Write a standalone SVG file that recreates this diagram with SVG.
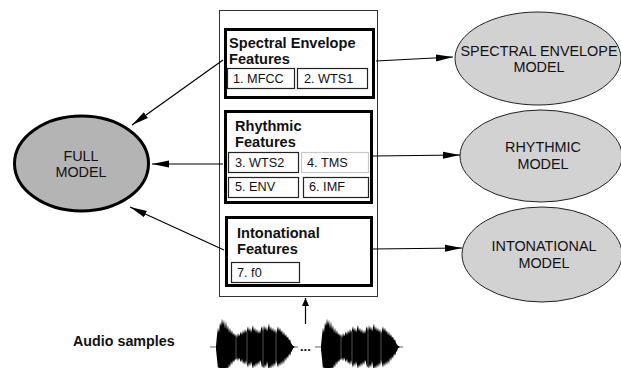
<svg xmlns="http://www.w3.org/2000/svg" width="621" height="368" viewBox="0 0 621 368">
<defs>
<style>
text{font-family:"Liberation Sans",Arial,sans-serif;fill:#111}
.title{font-size:14.6px;font-weight:bold}
.small{font-size:12.7px}
.model{font-size:14.4px;text-anchor:middle}
.fbox{fill:#fff;stroke:#000;stroke-width:3}
.sbox{fill:#fff;stroke:#222;stroke-width:1.2}
.conn{stroke:#000;stroke-width:1.2;fill:none}
</style>
<marker id="ah" markerUnits="userSpaceOnUse" markerWidth="18" markerHeight="8" refX="17" refY="4" orient="auto">
<path d="M0,0.5 L17,4 L0,7.5 z" fill="#000"/>
</marker>
<marker id="ahs" markerUnits="userSpaceOnUse" markerWidth="9" markerHeight="8" refX="8" refY="4" orient="auto">
<path d="M0,0.5 L8,4 L0,7.5 z" fill="#000"/>
</marker>
<g id="wave">
<line x1="210" y1="347" x2="298" y2="347" stroke="#667" stroke-width="1"/>
<g transform="translate(0,347) scale(1,1.3) translate(0,-347)">
<polygon fill="#000" points="216,346 217,338 218,332 219,336 220,328 221,331 222,325 223,330 224,326 225,333 226,327 227,334 228,330 229,336 230,332 231,337 232,334 233,338 234,336 235,339 236,337 237,340 238,336 239,339 240,337 241,335 242,338 243,334 244,337 245,333 246,336 247,334 248,331 249,335 250,332 251,336 252,333 253,330 254,335 255,332 256,336 257,333 258,337 259,334 260,337 261,333 262,331 263,335 264,330 265,334 266,331 267,335 268,332 269,329 270,334 271,331 272,335 273,332 274,336 275,333 276,337 277,334 278,331 279,335 280,332 281,336 282,334 283,338 284,335 285,339 286,337 287,340 288,339 289,342 290,341 291,344 292,345 293,346 295,347 293,348 292,350 291,351 290,354 289,352 288,356 287,354 286,358 285,355 284,360 283,357 282,361 281,358 280,362 279,359 278,363 277,360 276,357 275,362 274,359 273,363 272,360 271,364 270,361 269,365 268,362 267,358 266,363 265,360 264,364 263,361 262,363 261,359 260,357 259,361 258,358 257,362 256,359 255,363 254,360 253,364 252,361 251,358 250,362 249,359 248,363 247,360 246,357 245,361 244,358 243,360 242,356 241,359 240,357 239,355 238,358 237,355 236,357 235,356 234,359 233,357 232,361 231,358 230,363 229,360 228,365 227,362 226,367 225,363 224,368 223,365 222,370 221,366 220,369 219,362 218,364 217,356 216,349"/>
<g stroke="#777" stroke-width="0.6">
<line x1="236" y1="338" x2="236" y2="357"/>
<line x1="247" y1="335" x2="247" y2="360"/>
<line x1="263" y1="333" x2="263" y2="362"/>
<line x1="276" y1="336" x2="276" y2="359"/>
</g>
</g>
</g>
</defs>
<rect width="621" height="368" fill="#fff"/>

<g id="container">
<rect x="219.5" y="10.5" width="158" height="286" fill="#fff" stroke="#333" stroke-width="1"/>
</g>

<g id="spectral-features">
<rect class="fbox" x="225.5" y="29.5" width="148" height="68"/>
<text class="title" x="229" y="48">Spectral Envelope</text>
<text class="title" x="229" y="64">Features</text>
<rect class="sbox" x="227.5" y="68.5" width="67" height="20"/>
<text class="small" x="233" y="83">1. MFCC</text>
<rect class="sbox" x="297.5" y="68.5" width="70" height="20"/>
<text class="small" x="304" y="83">2. WTS1</text>
</g>

<g id="rhythmic-features">
<rect class="fbox" x="225.5" y="111.5" width="146" height="91"/>
<text class="title" x="235" y="131">Rhythmic</text>
<text class="title" x="235" y="147">Features</text>
<rect class="sbox" x="228.5" y="152.5" width="70" height="20"/>
<text class="small" x="235" y="167">3. WTS2</text>
<rect class="sbox" x="301.5" y="152.5" width="67" height="20" style="stroke:#c8c8c8"/>
<text class="small" x="307" y="167">4. TMS</text>
<rect class="sbox" x="228.5" y="177.5" width="70" height="20"/>
<text class="small" x="235" y="191">5. ENV</text>
<rect class="sbox" x="303.5" y="177.5" width="65" height="20"/>
<text class="small" x="309" y="191">6. IMF</text>
</g>

<g id="intonational-features">
<rect class="fbox" x="226.5" y="217.5" width="145" height="68"/>
<text class="title" x="237" y="238">Intonational</text>
<text class="title" x="237" y="254">Features</text>
<rect class="sbox" x="231.5" y="262.5" width="68" height="20"/>
<text class="small" x="237" y="277">7. f0</text>
</g>

<g id="full-model">
<ellipse cx="81.5" cy="163.5" rx="67" ry="47.5" fill="#b4b4b4" stroke="#000" stroke-width="3"/>
<text class="model" x="81" y="161">FULL</text>
<text class="model" x="81" y="177">MODEL</text>
</g>

<g id="spectral-model">
<ellipse cx="538" cy="58.5" rx="83" ry="46.5" fill="#d2d2d2" stroke="#222" stroke-width="1"/>
<text class="model" x="539" y="56">SPECTRAL ENVELOPE</text>
<text class="model" x="539" y="72">MODEL</text>
</g>

<g id="rhythmic-model">
<ellipse cx="541" cy="156" rx="81" ry="46" fill="#d2d2d2" stroke="#222" stroke-width="1"/>
<text class="model" x="543" y="152">RHYTHMIC</text>
<text class="model" x="543" y="169">MODEL</text>
</g>

<g id="intonational-model">
<ellipse cx="542" cy="254.5" rx="80" ry="47.5" fill="#d2d2d2" stroke="#222" stroke-width="1"/>
<text class="model" x="544" y="251">INTONATIONAL</text>
<text class="model" x="544" y="268">MODEL</text>
</g>

<g id="audio-samples">
<text class="title" x="73" y="346" style="font-size:14.3px">Audio samples</text>
<use href="#wave"/>
<use href="#wave" transform="translate(105,0)"/>
<text x="300" y="351" style="font-size:13px;font-weight:bold">...</text>
</g>

<g id="connectors">
<line class="conn" x1="223" y1="60" x2="132" y2="125" marker-end="url(#ah)"/>
<line class="conn" x1="223" y1="164" x2="152" y2="164" marker-end="url(#ah)"/>
<line class="conn" x1="224" y1="250" x2="130" y2="207" marker-end="url(#ah)"/>
<line class="conn" x1="376" y1="61" x2="453" y2="57" marker-end="url(#ah)"/>
<line class="conn" x1="373" y1="156" x2="460" y2="155" marker-end="url(#ah)"/>
<line class="conn" x1="373" y1="249" x2="462" y2="248" marker-end="url(#ah)"/>
<line class="conn" x1="305.5" y1="324" x2="305.5" y2="298" marker-end="url(#ahs)"/>
</g>
</svg>
